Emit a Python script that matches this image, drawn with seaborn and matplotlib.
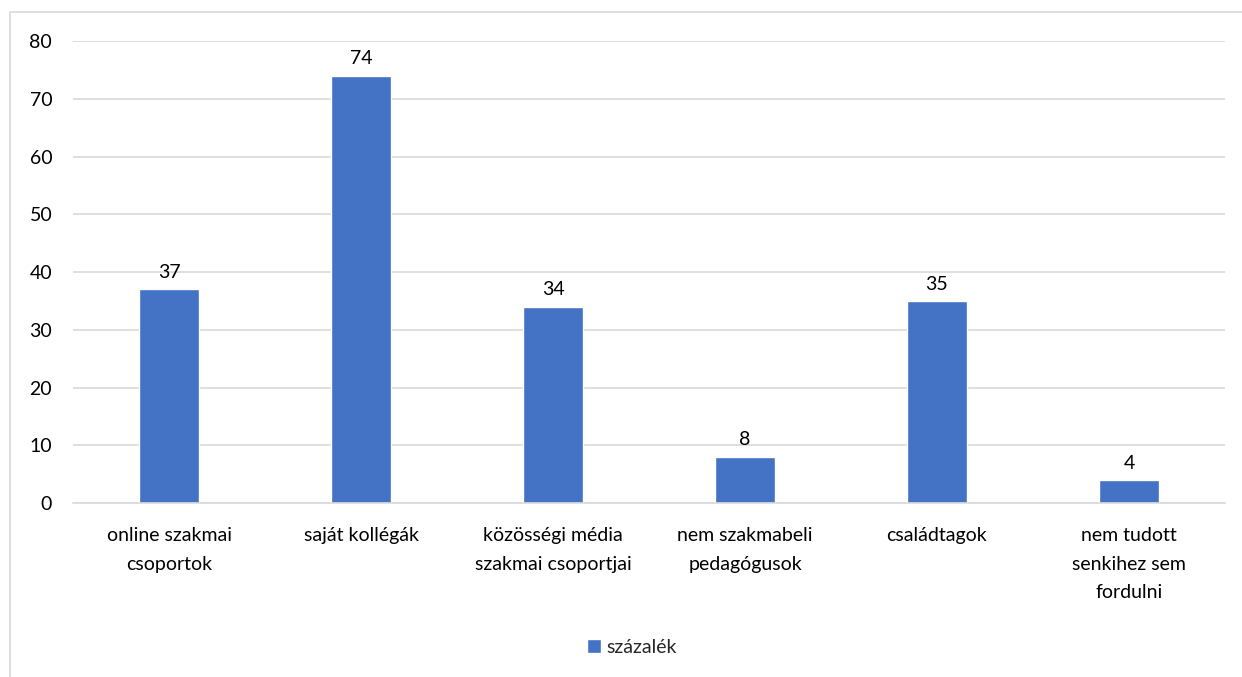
import matplotlib
matplotlib.use("Agg")
import matplotlib.pyplot as plt
from matplotlib.patches import Rectangle
import pandas as pd
import seaborn as sns

# data
categories = ["online szakmai\ncsoportok", "saját kollégák", "közösségi média\nszakmai csoportjai",
              "nem szakmabeli\npedagógusok", "családtagok", "nem tudott\nsenkihez sem\nfordulni"]
values = [37, 74, 34, 8, 35, 4]
series_name = "százalék"
yticks = [0, 10, 20, 30, 40, 50, 60, 70, 80]

df = pd.DataFrame({"cat": categories, "val": values})

sns.set_theme(style="white")
plt.rcParams["font.family"] = ["Lato", "DejaVu Sans"]

bar_color = "#4472C4"
grid_color = "#D9D9D9"
fs = 14

fig = plt.figure(figsize=(12.42, 6.77), dpi=100)
ax = fig.add_axes([0.0588, 0.257, 0.9275, 0.6824])

sns.barplot(data=df, x="cat", y="val", color=bar_color, width=0.31, saturation=1,
            ax=ax, label=series_name)

# value labels
ax.bar_label(ax.containers[0], fmt="%d", padding=6, fontsize=fs, color="#000000")

ax.set_ylim(0, 80)
ax.set_xlim(-0.5, 5.5)
ax.set_yticks(yticks)
ax.set_xlabel("")
ax.set_ylabel("")
ax.tick_params(axis="y", length=0, pad=15, labelsize=fs, labelcolor="#000000")
ax.tick_params(axis="x", length=0, pad=17, labelsize=fs, labelcolor="#000000")
ax.set_xticks(range(len(categories)))
ax.set_xticklabels(categories, linespacing=1.85, va="top")

# grid lines
ax.yaxis.grid(True, color=grid_color, linewidth=1.2)
ax.set_axisbelow(True)
for s in ["top", "right", "left"]:
    ax.spines[s].set_visible(False)
ax.spines["bottom"].set_color(grid_color)
ax.spines["bottom"].set_linewidth(1.2)

# legend
if ax.legend_:
    ax.legend_.remove()
handles, labels = ax.get_legend_handles_labels()
fig.legend(handles[:1], [series_name], loc="center", bbox_to_anchor=(0.509, 0.044),
           frameon=False, fontsize=fs, handlelength=0.7, handleheight=0.7,
           handletextpad=0.3)

# outer chart border
fig.patches.append(Rectangle((0.008, -0.1), 1.2, 1.082, transform=fig.transFigure,
                             fill=False, edgecolor=grid_color, linewidth=1.2))

fig.savefig("out.png", dpi=100)
